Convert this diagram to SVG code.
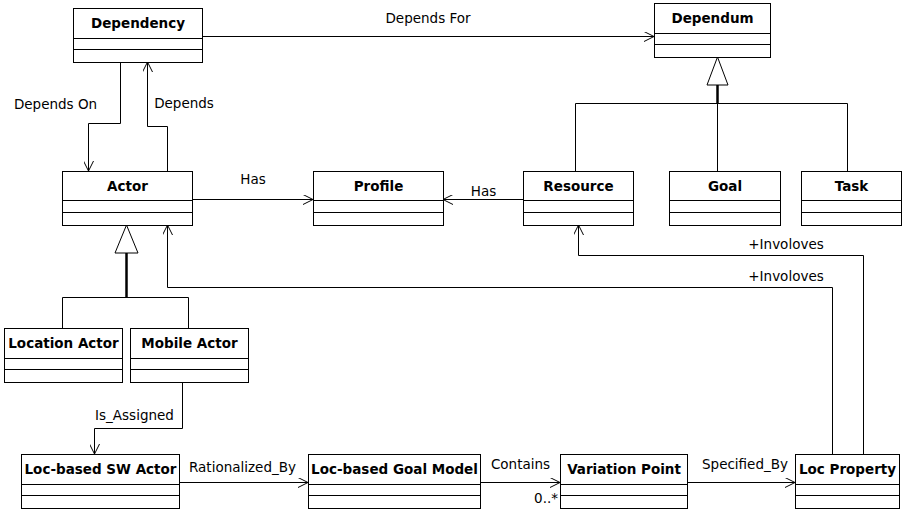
<svg xmlns="http://www.w3.org/2000/svg" width="903" height="512" viewBox="0 0 903 512">
<style>
.box{fill:#fff;stroke:#000;stroke-width:1}
.div{stroke:#000;stroke-width:1}
.title{font-family:"DejaVu Sans",sans-serif;font-weight:bold;font-size:13.5px;text-anchor:middle;fill:#000}
.lbl{font-family:"DejaVu Sans",sans-serif;font-size:13.5px;text-anchor:middle;fill:#000}
.c{fill:none;stroke:#000;stroke-width:1}
.thick{fill:none;stroke:#000;stroke-width:2.5}
.tri{fill:#fff;stroke:#000;stroke-width:1}
</style>
<defs>
<marker id="open" viewBox="0 0 10 10" refX="10" refY="5" markerWidth="10" markerHeight="10" markerUnits="userSpaceOnUse" orient="auto">
<path d="M0,0 L10,5 L0,10" fill="none" stroke="#000" stroke-width="1"/>
</marker>
</defs>
<rect width="903" height="512" fill="#fff"/>

<g id="connectors">
<path class="c" d="M202,36.5 H654" marker-end="url(#open)"/>
<path class="c" d="M120.5,62 V123.5 H88.5 V171" marker-end="url(#open)"/>
<path class="c" d="M167.5,171 V126.5 H147.5 V62" marker-end="url(#open)"/>
<path class="c" d="M192,199.5 H313" marker-end="url(#open)"/>
<path class="c" d="M523,199.5 H443" marker-end="url(#open)"/>
<path class="thick" d="M717.5,85 V103"/>
<path class="c" d="M575.5,171 V103.5 H847.5 V171 M717.5,103.5 V171"/>
<polygon class="tri" points="717.5,57 707,85 728,85"/>
<path class="thick" d="M126.5,253 V297"/>
<path class="c" d="M62.5,328 V297.5 H188.5 V328"/>
<polygon class="tri" points="126.5,225 115,253 138,253"/>
<path class="c" d="M182.5,382 V428.5 H94.5 V454" marker-end="url(#open)"/>
<path class="c" d="M179,482.5 H308" marker-end="url(#open)"/>
<path class="c" d="M480,482.5 H560" marker-end="url(#open)"/>
<path class="c" d="M687,482.5 H795" marker-end="url(#open)"/>
<path class="c" d="M832.5,454 V287.5 H167.5 V225" marker-end="url(#open)"/>
<path class="c" d="M863.5,454 V255.5 H578.5 V225" marker-end="url(#open)"/>
<text class="lbl" x="428" y="23">Depends For</text>
<text class="lbl" x="55.5" y="109">Depends On</text>
<text class="lbl" x="184" y="108">Depends</text>
<text class="lbl" x="253" y="184">Has</text>
<text class="lbl" x="483.5" y="196">Has</text>
<text class="lbl" x="786" y="249">+Involoves</text>
<text class="lbl" x="786" y="281">+Involoves</text>
<text class="lbl" x="134.5" y="420">Is_Assigned</text>
<text class="lbl" x="242.5" y="472">Rationalized_By</text>
<text class="lbl" x="520.5" y="469">Contains</text>
<text class="lbl" x="558" y="503" style="text-anchor:end">0..*</text>
<text class="lbl" x="745" y="469">Specified_By</text>
</g>

<g id="dependency">
<rect class="box" x="73.5" y="8.5" width="129" height="54"/>
<path class="div" d="M73.5,38.5 H202.5 M73.5,49.5 H202.5"/>
<text class="title" x="138" y="28">Dependency</text>
</g>
<g id="dependum">
<rect class="box" x="654.5" y="3.5" width="116" height="54"/>
<path class="div" d="M654.5,33.5 H770.5 M654.5,44.5 H770.5"/>
<text class="title" x="712.5" y="23">Dependum</text>
</g>
<g id="actor">
<rect class="box" x="62.5" y="171.5" width="130" height="54"/>
<path class="div" d="M62.5,200.5 H192.5 M62.5,212.5 H192.5"/>
<text class="title" x="127.5" y="191">Actor</text>
</g>
<g id="profile">
<rect class="box" x="313.5" y="171.5" width="130" height="54"/>
<path class="div" d="M313.5,200.5 H443.5 M313.5,212.5 H443.5"/>
<text class="title" x="378.5" y="191">Profile</text>
</g>
<g id="resource">
<rect class="box" x="523.5" y="171.5" width="110" height="54"/>
<path class="div" d="M523.5,200.5 H633.5 M523.5,212.5 H633.5"/>
<text class="title" x="578.5" y="191">Resource</text>
</g>
<g id="goal">
<rect class="box" x="669.5" y="171.5" width="111" height="54"/>
<path class="div" d="M669.5,200.5 H780.5 M669.5,212.5 H780.5"/>
<text class="title" x="725" y="191">Goal</text>
</g>
<g id="task">
<rect class="box" x="801.5" y="171.5" width="100" height="54"/>
<path class="div" d="M801.5,200.5 H901.5 M801.5,212.5 H901.5"/>
<text class="title" x="851.5" y="191">Task</text>
</g>
<g id="location-actor">
<rect class="box" x="4.5" y="328.5" width="118" height="54"/>
<path class="div" d="M4.5,358.5 H122.5 M4.5,369.5 H122.5"/>
<text class="title" x="63.5" y="348">Location Actor</text>
</g>
<g id="mobile-actor">
<rect class="box" x="130.5" y="328.5" width="118" height="54"/>
<path class="div" d="M130.5,358.5 H248.5 M130.5,369.5 H248.5"/>
<text class="title" x="189.5" y="348">Mobile Actor</text>
</g>
<g id="loc-sw-actor">
<rect class="box" x="21.5" y="454.5" width="158" height="54"/>
<path class="div" d="M21.5,484.5 H179.5 M21.5,495.5 H179.5"/>
<text class="title" x="100.5" y="474">Loc-based SW Actor</text>
</g>
<g id="loc-goal-model">
<rect class="box" x="308.5" y="454.5" width="172" height="54"/>
<path class="div" d="M308.5,484.5 H480.5 M308.5,495.5 H480.5"/>
<text class="title" x="394.5" y="474">Loc-based Goal Model</text>
</g>
<g id="variation-point">
<rect class="box" x="560.5" y="454.5" width="127" height="54"/>
<path class="div" d="M560.5,484.5 H687.5 M560.5,495.5 H687.5"/>
<text class="title" x="624" y="474">Variation Point</text>
</g>
<g id="loc-property">
<rect class="box" x="795.5" y="454.5" width="104" height="54"/>
<path class="div" d="M795.5,484.5 H899.5 M795.5,495.5 H899.5"/>
<text class="title" x="847.5" y="474">Loc Property</text>
</g>
</svg>
